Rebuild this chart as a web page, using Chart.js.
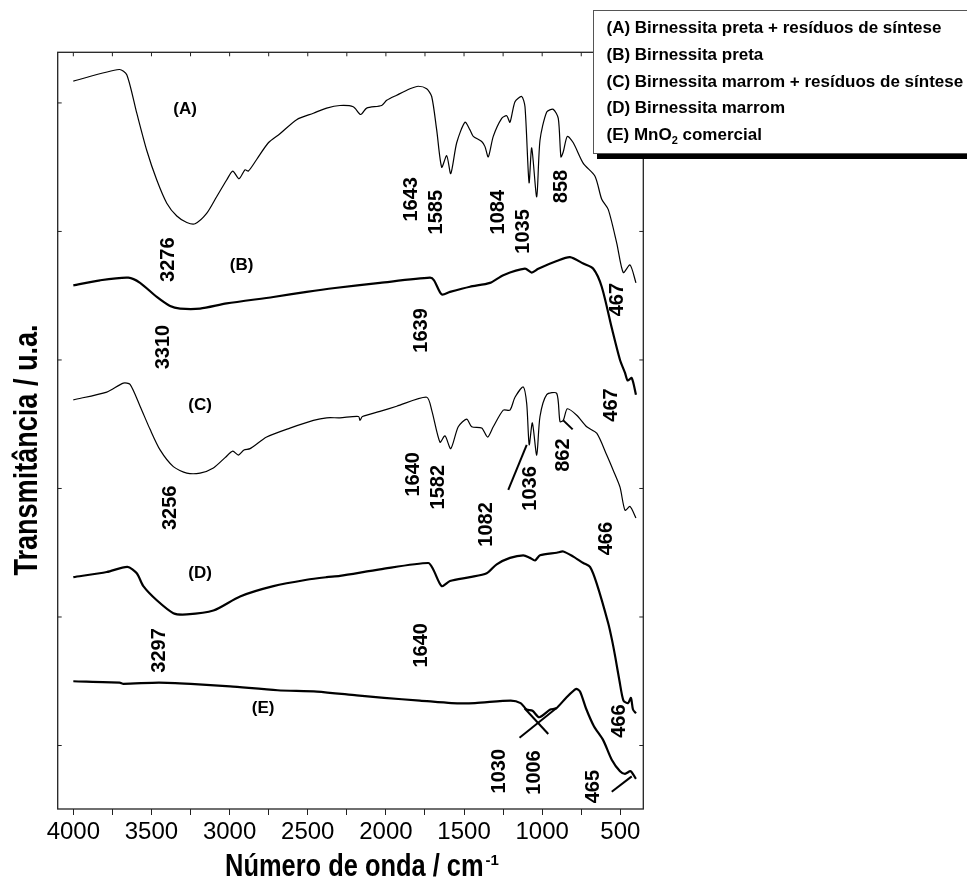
<!DOCTYPE html>
<html>
<head>
<meta charset="utf-8">
<script src="https://cdn.jsdelivr.net/npm/chart.js@4.4.0/dist/chart.umd.min.js"></script>
<style>
  html, body { margin: 0; padding: 0; background: #fff; }
</style>
</head>
<body>
<canvas id="chart" width="967" height="886"></canvas>
<script>
// Espectros FTIR (número de onda, transmitância deslocada)
const seriesNames = [
  "(A) Birnessita preta + resíduos de síntese",
  "(B) Birnessita preta",
  "(C) Birnessita marrom + resíduos de síntese",
  "(D) Birnessita marrom",
  "(E) MnO₂ comercial"
];
const xTitle = "Número de onda / cm";
const xTitleSup = "-1";
const yTitle = "Transmitância / u.a.";

const specA = [[4000,5.17],[3706,5.26],[3658,5.22],[3594,4.92],[3530,4.63],[3466,4.40],[3402,4.22],[3338,4.12],[3274,4.07],[3221,4.06],[3147,4.14],[3083,4.27],[3019,4.40],[2980,4.47],[2940,4.41],[2901,4.48],[2880,4.47],[2827,4.56],[2752,4.69],[2678,4.76],[2571,4.87],[2464,4.92],[2379,4.96],[2294,4.98],[2209,4.97],[2161,4.91],[2123,4.96],[2027,4.98],[1995,5.02],[1931,5.06],[1846,5.11],[1793,5.13],[1739,5.11],[1707,5.05],[1675,4.79],[1643,4.50],[1611,4.59],[1585,4.45],[1547,4.69],[1494,4.85],[1462,4.79],[1441,4.74],[1387,4.70],[1366,4.66],[1345,4.58],[1313,4.74],[1259,4.88],[1227,4.90],[1206,4.85],[1174,5.01],[1131,5.05],[1110,4.97],[1084,4.38],[1067,4.65],[1035,4.27],[1014,4.71],[971,4.93],[929,4.95],[897,4.88],[880,4.58],[865,4.62],[839,4.74],[801,4.69],[737,4.53],[662,4.43],[619,4.25],[577,4.17],[523,3.91],[481,3.68],[438,3.74],[400,3.60]];

const specB = [[4000,3.58],[3829,3.62],[3648,3.64],[3573,3.60],[3466,3.49],[3381,3.42],[3317,3.40],[3189,3.40],[3019,3.44],[2720,3.49],[2507,3.53],[2326,3.56],[2038,3.60],[1718,3.64],[1692,3.62],[1643,3.51],[1590,3.53],[1462,3.57],[1334,3.60],[1249,3.66],[1110,3.71],[1067,3.68],[1025,3.71],[907,3.77],[822,3.80],[737,3.75],[673,3.71],[619,3.57],[555,3.25],[502,3.00],[470,2.90],[453,2.84],[427,2.86],[400,2.73]];

const specC = [[4000,2.69],[3786,2.75],[3680,2.82],[3637,2.81],[3573,2.64],[3509,2.46],[3445,2.30],[3360,2.17],[3274,2.12],[3189,2.12],[3104,2.16],[3029,2.24],[2980,2.29],[2944,2.26],[2908,2.30],[2869,2.31],[2763,2.40],[2614,2.47],[2464,2.53],[2379,2.55],[2294,2.55],[2175,2.56],[2166,2.53],[2150,2.56],[2038,2.60],[1931,2.64],[1739,2.71],[1707,2.61],[1654,2.36],[1622,2.41],[1585,2.31],[1537,2.48],[1483,2.54],[1451,2.48],[1387,2.47],[1349,2.40],[1313,2.48],[1249,2.61],[1206,2.61],[1174,2.71],[1121,2.79],[1099,2.66],[1083,2.34],[1063,2.51],[1035,2.26],[1014,2.56],[971,2.73],[907,2.74],[886,2.52],[865,2.53],[839,2.62],[779,2.57],[715,2.48],[651,2.43],[587,2.26],[545,2.14],[502,2.01],[470,1.83],[438,1.86],[400,1.77]];

const specD = [[4000,1.31],[3786,1.35],[3654,1.39],[3594,1.34],[3552,1.24],[3466,1.13],[3360,1.03],[3274,1.02],[3104,1.05],[2933,1.16],[2720,1.24],[2507,1.29],[2379,1.31],[2294,1.32],[2038,1.37],[1729,1.42],[1697,1.37],[1643,1.24],[1590,1.28],[1462,1.31],[1355,1.34],[1291,1.41],[1206,1.46],[1121,1.48],[1078,1.46],[1046,1.44],[1014,1.48],[907,1.50],[865,1.51],[801,1.47],[737,1.42],[694,1.39],[651,1.26],[577,0.95],[553,0.82],[531,0.68],[505,0.50],[480,0.35],[451,0.33],[432,0.37],[419,0.28],[400,0.25]];

const specE = [[4000,0.50],[3704,0.49],[3679,0.48],[3452,0.49],[3249,0.48],[2997,0.46],[2693,0.43],[2441,0.42],[2187,0.39],[2012,0.37],[1783,0.35],[1580,0.33],[1430,0.33],[1201,0.35],[1138,0.33],[1100,0.28],[1062,0.27],[1019,0.22],[948,0.28],[910,0.29],[848,0.37],[784,0.44],[758,0.42],[720,0.29],[669,0.15],[609,0.04],[555,-0.11],[502,-0.20],[470,-0.22],[434,-0.20],[400,-0.26]];

// rótulos dos picos: texto, número de onda, y
const peakLabels = [
  ["3276",3392,3.78],["1643",1839,4.25],["1585",1675,4.15],["1084",1281,4.15],["1035",1121,4.00],["858",875,4.35],
  ["3310",3424,3.10],["1639",1771,3.23],["467",519,3.47],
  ["3256",3381,1.85],["1640",1825,2.11],["1582",1665,2.01],["1082",1355,1.72],["1036",1078,2.00],["862",865,2.26],["467",555,2.65],
  ["3297",3451,0.74],["1640",1771,0.78],["466",587,1.61],
  ["1030",1276,-0.20],["1006",1049,-0.21],["465",670,-0.32],["466",505,0.19]
];
const curveLetters = [["(A)",3285,4.95],["(B)",2923,3.74],["(C)",3189,2.65],["(D)",3189,1.34],["(E)",2786,0.29]];

// traços indicadores
const pointerLines = [
  [[1217,1.99],[1099,2.34]],
  [[865,2.53],[805,2.46]],
  [[1145,0.06],[910,0.29]],
  [[1113,0.29],[961,0.09]],
  [[555,-0.36],[427,-0.24]]
];

const xTicks = [4000,3750,3500,3250,3000,2750,2500,2250,2000,1750,1500,1250,1000,750,500];
const yTicks = [0,1,2,3,4,5];

const toXY = arr => arr.map(p => ({x: p[0], y: p[1]}));
const spectra = [specA, specB, specC, specD, specE];
const widths = [1.2, 2.2, 1.2, 2.2, 2.2];

const datasets = spectra.map((s, i) => ({
  label: seriesNames[i],
  data: toXY(s),
  borderColor: "#000",
  borderWidth: widths[i],
  pointRadius: 0,
  tension: 0.25
}));
pointerLines.forEach(l => datasets.push({
  label: "",
  data: toXY(l),
  borderColor: "#000",
  borderWidth: 2,
  pointRadius: 0
}));

const FONT = '"Liberation Sans", Arial, sans-serif';
const NARROW = 0.82;

const decorPlugin = {
  id: "decor",
  afterDatasetsDraw(chart) {
    const {ctx, chartArea: a, scales: {x, y}} = chart;
    ctx.save();
    // moldura e marcas internas
    ctx.strokeStyle = "#222";
    ctx.lineWidth = 1.3;
    ctx.strokeRect(a.left, a.top, a.right - a.left, a.bottom - a.top);
    ctx.lineWidth = 1;
    ctx.beginPath();
    y.ticks.forEach(t => {
      const py = y.getPixelForValue(t.value);
      ctx.moveTo(a.left, py); ctx.lineTo(a.left + 4, py);
      ctx.moveTo(a.right, py); ctx.lineTo(a.right - 4, py);
    });
    x.ticks.forEach(t => {
      const px = x.getPixelForValue(t.value);
      ctx.moveTo(px, a.top); ctx.lineTo(px, a.top + 4);
    });
    ctx.stroke();

    // rótulos
    ctx.fillStyle = "#000";
    ctx.textAlign = "center";
    ctx.textBaseline = "middle";
    ctx.font = "bold 20px " + FONT;
    peakLabels.forEach(([txt, wn, v]) => {
      ctx.save();
      ctx.translate(x.getPixelForValue(wn), y.getPixelForValue(v));
      ctx.rotate(-Math.PI / 2);
      ctx.fillText(txt, 0, 0);
      ctx.restore();
    });
    ctx.font = "bold 17px " + FONT;
    curveLetters.forEach(([txt, wn, v]) => {
      ctx.fillText(txt, x.getPixelForValue(wn), y.getPixelForValue(v));
    });
    ctx.restore();
  },
  afterDraw(chart) {
    const ctx = chart.ctx;
    ctx.save();
    ctx.fillStyle = "#000";

    // títulos dos eixos (fonte condensada)
    ctx.textBaseline = "alphabetic";
    ctx.font = "bold 31px " + FONT;
    const w = ctx.measureText(xTitle).width * NARROW;
    ctx.font = "bold 15px " + FONT;
    const sw = ctx.measureText(xTitleSup).width;
    const x0 = 362 - (w + sw + 2) / 2;
    ctx.save();
    ctx.translate(x0, 876);
    ctx.scale(NARROW, 1);
    ctx.font = "bold 31px " + FONT;
    ctx.textAlign = "left";
    ctx.fillText(xTitle, 0, 0);
    ctx.restore();
    ctx.textAlign = "left";
    ctx.font = "bold 15px " + FONT;
    ctx.fillText(xTitleSup, x0 + w + 2, 865);

    ctx.save();
    ctx.translate(37, 450);
    ctx.rotate(-Math.PI / 2);
    ctx.scale(NARROW, 1);
    ctx.font = "bold 33px " + FONT;
    ctx.textAlign = "center";
    ctx.fillText(yTitle, 0, 0);
    ctx.restore();

    // legenda
    const bx = 593, by = 10, bw = 380, bh = 143;
    ctx.fillStyle = "#000";
    ctx.fillRect(bx + 4, by + bh, bw, 6);
    ctx.fillStyle = "#fff";
    ctx.fillRect(bx, by, bw, bh);
    ctx.strokeStyle = "#555";
    ctx.lineWidth = 1;
    ctx.strokeRect(bx + 0.5, by + 0.5, bw, bh);
    ctx.fillStyle = "#000";
    ctx.textBaseline = "middle";
    ctx.textAlign = "left";
    const big = "bold 17px " + FONT, small = "bold 11px " + FONT;
    chart.data.datasets.slice(0, 5).forEach((d, i) => {
      const ty = by + 18.5 + i * 26.7;
      let tx = bx + 13.5;
      d.label.split("₂").forEach((part, k) => {
        if (k > 0) {
          ctx.font = small;
          ctx.fillText("2", tx, ty + 6);
          tx += ctx.measureText("2").width;
        }
        ctx.font = big;
        ctx.fillText(part, tx, ty);
        tx += ctx.measureText(part).width;
      });
    });
    ctx.restore();
  }
};

new Chart(document.getElementById("chart").getContext("2d"), {
  type: "line",
  data: { datasets },
  options: {
    responsive: false,
    animation: false,
    events: [],
    layout: { padding: { top: 52.3, right: 323.7, left: 0, bottom: 0 } },
    plugins: { legend: { display: false }, tooltip: { enabled: false } },
    scales: {
      x: {
        type: "linear",
        reverse: true,
        min: 353,
        max: 4100,
        afterBuildTicks: s => { s.ticks = xTicks.map(v => ({value: v})); },
        afterFit: s => { s.height = 77; },
        border: { display: false },
        grid: { drawOnChartArea: false, drawTicks: true, tickLength: 6, color: "#222" },
        ticks: {
          autoSkip: false,
          maxRotation: 0,
          padding: 3,
          color: "#000",
          font: { family: FONT, size: 24 },
          callback: v => (v % 500 === 0 ? String(v) : "")
        },
        title: { display: false }
      },
      y: {
        min: -0.494,
        max: 5.394,
        afterBuildTicks: s => { s.ticks = yTicks.map(v => ({value: v})); },
        afterFit: s => { s.width = 57.7; },
        border: { display: false },
        grid: { display: false },
        ticks: { display: false },
        title: { display: false }
      }
    }
  },
  plugins: [decorPlugin]
});
</script>
</body>
</html>
